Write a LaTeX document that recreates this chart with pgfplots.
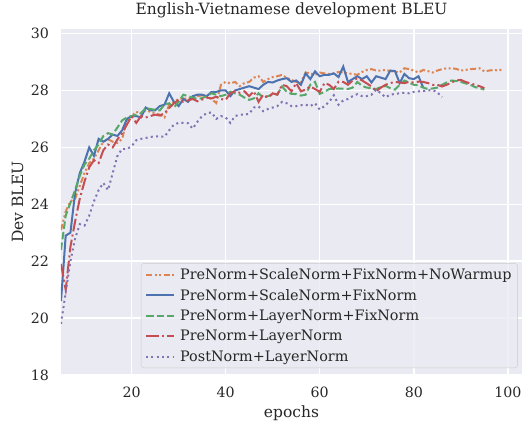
\documentclass[border=0pt]{standalone}
\usepackage{fontspec}
\setmainfont{DejaVu Serif}
\usepackage{pgfplots}
\pgfplotsset{compat=1.18}
\definecolor{bgcol}{HTML}{EAEAF2}
\definecolor{txt}{HTML}{262626}
\definecolor{cblue}{HTML}{4C72B0}
\definecolor{corange}{HTML}{DD8452}
\definecolor{cgreen}{HTML}{55A868}
\definecolor{cred}{HTML}{C44E52}
\definecolor{cpurple}{HTML}{8172B3}
\begin{document}
\begin{tikzpicture}
\begin{axis}[
  scale only axis, width=461pt, height=346pt,
  xmin=5, xmax=103, ymin=18, ymax=30.16,
  xtick={20,40,60,80,100}, ytick={18,20,22,24,26,28,30},
  major tick length=0pt,
  axis line style={draw=none},
  axis background/.style={fill=bgcol},
  grid=major, grid style={white, line width=1.4pt},
  /pgf/number format/assume math mode=true,
  tick label style={font=\fontsize{14.2}{16}\selectfont, text=txt},
  xticklabel style={yshift=-8pt},
  yticklabel style={xshift=-8.5pt},
  title={English-Vietnamese development BLEU},
  title style={at={(axis description cs:0.5,1.026)}, anchor=base, font=\fontsize{15.5}{17}\selectfont, text=txt},
  xlabel={epochs},
  xlabel style={at={(axis description cs:0.5,-0.1214)}, anchor=base, font=\fontsize{15.5}{17}\selectfont, text=txt},
  ylabel={Dev BLEU},
  ylabel style={at={(axis description cs:-0.0824,0.5)}, anchor=base, font=\fontsize{15.5}{17}\selectfont, text=txt},
  legend style={at={(0.991,0.02)}, anchor=south east, fill=bgcol, fill opacity=0.8, text opacity=1, draw=black!20, rounded corners=3pt, font=\fontsize{14.4}{16}\selectfont, text=txt, row sep=4.4pt, inner xsep=4pt, inner ysep=3pt, /tikz/every odd column/.append style={column sep=3pt}},
  legend cell align=left,
  legend image code/.code={\draw[#1] (0pt,0pt) -- (28pt,0pt);},
  every axis plot/.append style={line width=2pt},
]
\addplot[corange, dash pattern=on 6pt off 2.5pt on 2pt off 2.5pt on 2pt off 2.5pt] table {
5 23.1
6 23.75
7 24.1
8 24.2
9 24.65
10 25.1
11 25.45
12 25.6
13 25.9
14 26.2
15 26.28
16 26.2
17 26.16
18 26.3
19 26.95
20 27.1
21 27.25
22 27.2
23 27.3
24 27.25
25 27.2
26 27.15
27 27.05
28 27.5
29 27.6
30 27.7
31 27.72
32 27.7
33 27.78
34 27.8
35 27.83
36 27.78
37 27.7
38 27.56
39 28.2
40 28.3
41 28.25
42 28.3
43 28.15
44 28.26
45 28.3
46 28.45
47 28.5
48 28.3
49 28.4
50 28.47
51 28.5
52 28.55
53 28.44
54 28.37
55 28.3
56 28.28
57 28.63
58 28.6
59 28.55
60 28.63
61 28.6
62 28.58
63 28.6
64 28.65
65 28.63
66 28.6
67 28.58
68 28.55
69 28.65
70 28.72
71 28.75
72 28.7
73 28.7
74 28.72
75 28.68
76 28.66
77 28.63
78 28.78
79 28.75
80 28.7
81 28.63
82 28.72
83 28.68
84 28.63
85 28.7
86 28.75
87 28.78
88 28.78
89 28.76
90 28.7
91 28.72
92 28.75
93 28.76
94 28.78
95 28.67
96 28.7
97 28.72
98 28.7
99 28.75
};
\addlegendentry{PreNorm+ScaleNorm+FixNorm+NoWarmup}
\addplot[cblue, solid] table {
5 20.6
6 22.9
7 23.0
8 24.4
9 25.1
10 25.5
11 26.0
12 25.7
13 26.3
14 26.2
15 26.3
16 26.45
17 26.4
18 26.6
19 27.0
20 27.1
21 27.1
22 27.05
23 27.4
24 27.3
25 27.3
26 27.45
27 27.5
28 27.9
29 27.6
30 27.45
31 27.7
32 27.6
33 27.8
34 27.85
35 27.85
36 27.8
37 27.95
38 27.95
39 28.0
40 28.0
41 27.8
42 28.0
43 28.05
44 28.1
45 28.15
46 28.1
47 28.05
48 28.2
49 28.3
50 28.28
51 28.35
52 28.4
53 28.43
54 28.3
55 28.35
56 28.2
57 28.6
58 28.4
59 28.67
60 28.5
61 28.55
62 28.55
63 28.6
64 28.47
65 28.84
66 28.3
67 28.4
68 28.5
69 28.4
70 28.5
71 28.28
72 28.5
73 28.45
74 28.4
75 28.7
76 28.68
77 28.26
78 28.58
79 28.43
80 28.4
81 28.5
82 28.1
};
\addlegendentry{PreNorm+ScaleNorm+FixNorm}
\addplot[cgreen, dash pattern=on 7.4pt off 3.2pt] table {
5 22.4
6 23.6
7 24.05
8 24.5
9 25.0
10 25.4
11 25.6
12 25.9
13 26.1
14 26.4
15 26.5
16 26.45
17 26.7
18 26.95
19 27.05
20 27.1
21 27.15
22 27.2
23 27.38
24 27.35
25 27.32
26 27.3
27 27.5
28 27.55
29 27.4
30 27.6
31 27.85
32 27.8
33 27.75
34 27.7
35 27.73
36 27.8
37 27.9
38 27.85
39 27.8
40 27.85
41 27.96
42 27.9
43 27.85
44 27.75
45 27.67
46 27.72
47 27.9
48 27.75
49 27.8
50 27.85
51 27.87
52 28.14
53 27.95
54 27.88
55 27.87
56 27.82
57 27.85
58 28.2
59 28.3
60 27.88
61 27.95
62 28.05
63 28.06
64 28.07
65 28.06
66 28.05
67 28.1
68 28.3
69 28.16
70 28.1
71 28.08
72 28.05
73 28.12
74 28.16
75 28.08
76 28.03
77 28.2
78 28.35
79 28.28
80 28.2
81 28.18
82 28.1
83 28.05
84 28.07
85 28.1
86 28.2
87 28.28
88 28.35
89 28.33
90 28.3
91 28.25
92 28.2
93 28.12
94 28.08
95 28.03
};
\addlegendentry{PreNorm+LayerNorm+FixNorm}
\addplot[cred, dash pattern=on 12.8pt off 3.2pt on 2pt off 3.2pt] table {
5 21.9
6 21.0
7 22.5
8 23.4
9 24.2
10 24.8
11 25.3
12 25.55
13 25.45
14 25.9
15 26.1
16 26.0
17 26.28
18 26.5
19 26.8
20 27.09
21 26.86
22 27.1
23 27.05
24 27.1
25 27.15
26 27.12
27 27.2
28 27.38
29 27.55
30 27.67
31 27.6
32 27.65
33 27.7
34 27.62
35 27.68
36 27.75
37 27.72
38 27.78
39 27.7
40 27.67
41 27.9
42 27.97
43 27.92
44 27.97
45 27.8
46 27.97
47 27.6
48 27.85
49 27.75
50 27.9
51 27.85
52 28.2
53 28.15
54 27.97
55 28.26
56 27.97
57 28.03
58 28.14
59 28.05
60 27.95
61 28.26
62 28.2
63 28.05
64 28.31
65 28.3
66 28.2
67 28.35
68 28.43
69 28.35
70 28.25
71 28.14
72 27.97
73 28.1
74 28.2
75 28.26
76 28.3
77 28.28
78 28.26
79 28.3
80 28.28
81 28.31
82 28.3
83 28.26
84 28.2
85 28.2
86 28.14
87 28.2
88 28.28
89 28.35
90 28.37
91 28.3
92 28.25
93 28.2
94 28.15
95 28.08
};
\addlegendentry{PreNorm+LayerNorm}
\addplot[cpurple, dash pattern=on 2pt off 3.3pt] table {
5 19.8
6 20.9
7 22.0
8 22.8
9 23.3
10 23.25
11 23.6
12 24.1
13 24.5
14 24.75
15 24.5
16 25.1
17 25.7
18 25.95
19 25.94
20 26.04
21 26.25
22 26.3
23 26.33
24 26.37
25 26.38
26 26.39
27 26.37
28 26.6
29 26.8
30 26.86
31 26.86
32 26.85
33 26.66
34 26.9
35 27.1
36 27.2
37 27.23
38 27.0
39 27.1
40 27.05
41 26.86
42 27.1
43 27.15
44 27.15
45 27.18
46 27.4
47 27.44
48 27.27
49 27.35
50 27.4
51 27.45
52 27.6
53 27.55
54 27.45
55 27.45
56 27.48
57 27.5
58 27.45
59 27.55
60 27.33
61 27.45
62 27.6
63 27.83
64 27.5
65 27.65
66 27.7
67 27.8
68 27.87
69 27.8
70 27.8
71 27.85
72 28.03
73 27.9
74 27.76
75 27.85
76 27.88
77 27.9
78 27.92
79 27.9
80 27.95
81 27.97
82 27.98
83 28.0
84 28.02
85 27.93
86 27.77
};
\addlegendentry{PostNorm+LayerNorm}
\end{axis}
\pgfresetboundingbox
\path (-61pt,-46pt) rectangle (463pt,375pt);
\end{tikzpicture}
\end{document}
